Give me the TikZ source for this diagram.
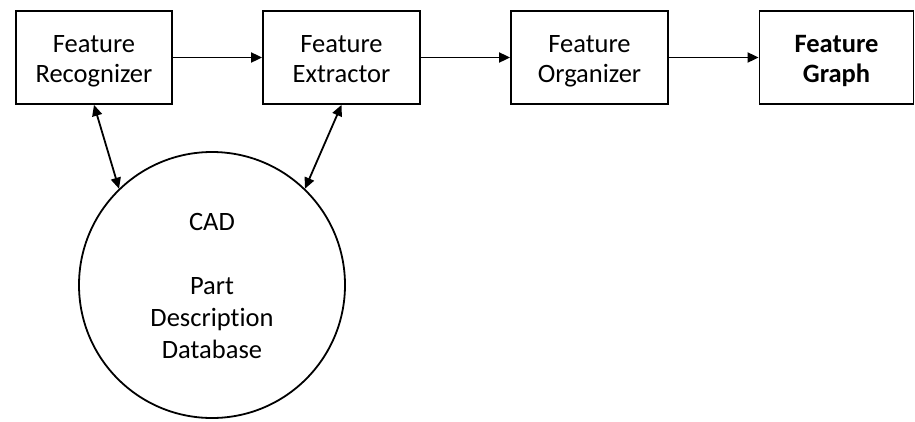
\documentclass[tikz,border=0pt]{standalone}
\usepackage{fontspec}
\setmainfont{Carlito}[Ligatures=NoCommon]
\usetikzlibrary{arrows.meta}
% fixed line strut so every label sits on the same baselines
\newcommand\lnstrut{\rule[-5pt]{0pt}{29pt}}
\begin{document}
\begin{tikzpicture}[x=1pt,y=-1pt,
  every node/.style={font=\fontsize{26.5}{30}\selectfont, align=center},
  stage/.style={draw, line width=1.8pt, minimum height=93pt, inner sep=0pt},
  store/.style={draw, circle, line width=1.8pt, minimum size=266pt, inner sep=0pt,
    font=\fontsize{26.5}{32}\selectfont},
  flow/.style={line width=1.8pt, -{Triangle[length=11pt,width=10pt]}},
  link/.style={line width=1.8pt, {Triangle[length=11pt,width=10pt]}-{Triangle[length=11pt,width=10pt]}}]
\useasboundingbox (0,0) rectangle (915,421);
\node[stage, minimum width=156pt] (rec) at (94,57.5) {Feature\lnstrut\\Recognizer\lnstrut};
\node[stage, minimum width=157pt] (ext) at (341.5,57.5) {Feature\lnstrut\\Extractor\lnstrut};
\node[stage, minimum width=157pt] (org) at (589.5,57.5) {Feature\lnstrut\\Organizer\lnstrut};
\node[stage, minimum width=154pt, font=\fontsize{26.5}{30}\selectfont\bfseries] (graph) at (836.5,57.5) {Feature\lnstrut\\Graph\lnstrut};
\node[store] (db) at (212,285) {CAD\lnstrut\\[32pt]Part\\Description\\Database\lnstrut};
\draw[flow] (rec.east) -- (ext.west);
\draw[flow] (ext.east) -- (org.west);
\draw[flow] (org.east) -- (graph.west);
\draw[link] (rec.south) -- (db.134);
\draw[link] (ext.south) -- (db.46);
\end{tikzpicture}
\end{document}
